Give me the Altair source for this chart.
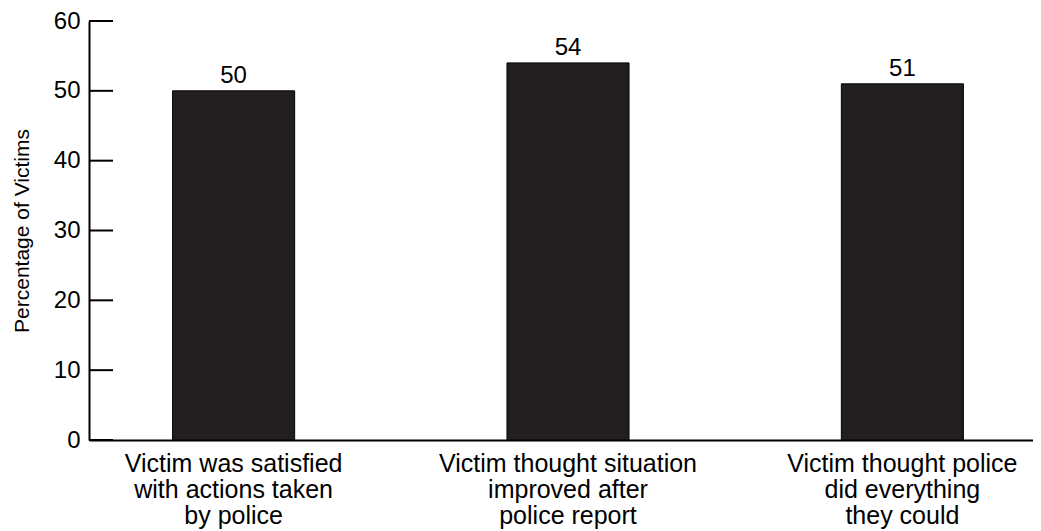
import altair as alt
import pandas as pd

categories = [
    "Victim was satisfied|with actions taken|by police",
    "Victim thought situation|improved after|police report",
    "Victim thought police|did everything|they could",
]
values = [50, 54, 51]
y_ticks = [0, 10, 20, 30, 40, 50, 60]
y_title = "Percentage of Victims"

df = pd.DataFrame({"category": categories, "value": values})
ticks_df = pd.DataFrame({"tick": y_ticks})

FONT = "Liberation Sans"

x_scale = alt.Scale(paddingInner=0.635, paddingOuter=0.25, range=[0, 958])
y_scale = alt.Scale(domain=[0, 60], nice=False)


def y_axis():
    return alt.Axis(values=y_ticks, title=y_title)


bars = alt.Chart(df).mark_bar(color="#231f20", stroke="black", strokeWidth=1).encode(
    x=alt.X("category:N", sort=categories, scale=x_scale, title=None),
    y=alt.Y("value:Q", scale=y_scale, axis=y_axis()),
)

labels = alt.Chart(df).mark_text(
    baseline="bottom", dy=-3, fontSize=24, color="black", font=FONT
).encode(
    x=alt.X("category:N", sort=categories, scale=x_scale, title=None),
    y=alt.Y("value:Q", scale=y_scale, axis=y_axis()),
    text=alt.Text("value:Q"),
)

tick_rules = alt.Chart(ticks_df).mark_rule(color="black", strokeWidth=2).encode(
    y=alt.Y("tick:Q", scale=y_scale, axis=y_axis()),
    x=alt.value(0),
    x2=alt.value(24),
)

chart = (
    alt.layer(bars, labels, tick_rules)
    .properties(
        width=944,
        height=419,
        autosize=alt.AutoSizeParams(type="none"),
        padding={"left": 81, "top": 13, "right": 0, "bottom": 91},
    )
    .configure(font=FONT)
    .configure_view(stroke=None)
    .configure_axis(
        ticks=False,
        grid=False,
        domainWidth=2,
        domainColor="black",
        labelColor="black",
        labelFont=FONT,
        labelLimit=500,
        titleFont=FONT,
        titleFontSize=21,
        titleFontWeight="normal",
        titleColor="black",
    )
    .configure_axisX(
        labelAngle=0,
        labelExpr="split(datum.label, '|')",
        labelFontSize=25,
        labelLineHeight=26,
        labelBaseline="top",
        labelPadding=11,
    )
    .configure_axisY(
        labelFontSize=24,
        labelPadding=9,
        titlePadding=21,
    )
)

chart.save("out.html", embed_options={"renderer": "svg", "actions": False})
